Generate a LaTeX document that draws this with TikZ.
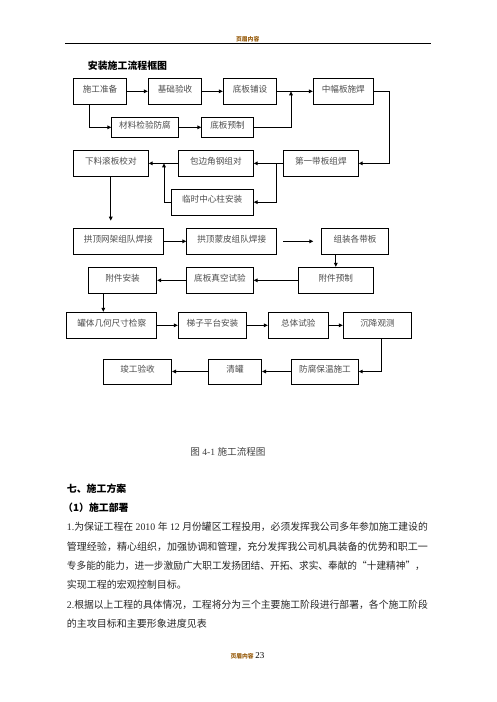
\documentclass[tikz,border=0pt]{standalone}
\usepackage{fontspec}
\usepackage{graphicx}
\setmainfont{Liberation Serif}
\newfontfamily\cjk{Noto Sans CJK SC}
\usetikzlibrary{arrows.meta,calc}
\definecolor{hdr}{RGB}{150,90,10}
\newcommand\bx[6]{\node[box,minimum width={#4-#2},minimum height={#5-#3}] (#1) at ({(#2+#4)/2},{(#3+#5)/2}) {#6};}
\newcommand\pline[3]{\node[para,anchor=west] (#1) at (66.7,#2) {#3};}
\begin{document}
\begin{tikzpicture}[x=1pt,y=-1pt,
  box/.style={draw=black,line width=0.8pt,inner sep=0pt,font=\cjk\fontsize{8.6}{10}\selectfont,text=black!70,text height=5pt,text depth=3.4pt},
  arr/.style={line width=1pt,-{Triangle[length=4pt,width=3.6pt]}},
  para/.style={inner sep=0pt,font=\fontsize{10}{12}\selectfont,text=black!85},
  bhead/.style={inner sep=0pt,anchor=west,font=\cjk\bfseries\fontsize{9.9}{12}\selectfont}
  ]
\useasboundingbox (0,0) rectangle (496,702);
% header
\node[inner sep=0pt,font=\cjk\bfseries\fontsize{5.8}{7}\selectfont,text=hdr] (hd) at (247.7,39) {页眉内容};
\coordinate (hl1) at (65,43.3); \coordinate (hl2) at (430.7,43.3);
\draw[line width=0.8pt] (hl1) -- (hl2);
\node[bhead] (title) at (87.7,66) {安装施工流程框图};
% boxes
\bx{s1}{73.3}{78.3}{126.7}{104.3}{施工准备}
\bx{s2}{148.3}{78.3}{201.7}{104.3}{基础验收}
\bx{s3}{223.3}{78.3}{276.7}{104.3}{底板铺设}
\bx{s4}{313.3}{78.3}{373.3}{104.3}{中幅板施焊}
\bx{m1}{111.7}{117.3}{178.3}{137.3}{材料检验防腐}
\bx{m2}{201.7}{117.3}{253.3}{137.3}{底板预制}
\bx{t1}{73.3}{150.7}{148.3}{176}{下料滚板校对}
\bx{t2}{178.3}{150.7}{253.3}{176}{包边角钢组对}
\bx{t3}{283.3}{150.7}{358.3}{176}{第一带板组焊}
\bx{t4}{171}{189.3}{253.3}{215}{临时中心柱安装}
\bx{r1}{73.3}{228.3}{163.3}{254.3}{拱顶网架组队焊接}
\bx{r2}{186.7}{228.3}{276.7}{254.3}{拱顶蒙皮组队焊接}
\bx{r3}{321.7}{228.3}{388.3}{254.3}{组装各带板}
\bx{p1}{88.3}{267.3}{156.7}{293.3}{附件安装}
\bx{p2}{186.7}{267.3}{253.3}{293.3}{底板真空试验}
\bx{p3}{298.3}{267.3}{373.3}{293.3}{附件预制}
\bx{q1}{66.7}{312.3}{156.7}{338.3}{罐体几何尺寸检察}
\bx{q2}{178.3}{312.3}{246.7}{338.3}{梯子平台安装}
\bx{q3}{268.3}{312.3}{328.3}{338.3}{总体试验}
\bx{q4}{343.3}{312.3}{411.7}{338.3}{沉降观测}
\bx{w1}{103.3}{359}{171.7}{384}{竣工验收}
\bx{w2}{208.3}{359}{261.7}{384}{清罐}
\bx{w3}{291.7}{359}{358.3}{384}{防腐保温施工}
% connectors
\draw[arr] (s1.east) -- (s2.west);
\draw[arr] (s2.east) -- (s3.west);
\draw[arr] (s3.east) -- (s4.west);
\draw[arr] ([xshift=-11pt]s1.south) |- (m1.west);
\draw[arr] (m1.east) -- (m2.west);
\coordinate (j1) at (291,91.3);
\draw[arr] (m2.east) -| (j1);
\draw[arr] (s4.east) -- ++(15.7,0) |- (t3.east);
\draw[arr] (t3.west) -- (t2.east);
\coordinate (j2) at (276,163.35);
\draw[arr] (j2) |- (t4.east);
\coordinate (j3) at (164,163.35);
\draw[arr] (t4.west) -| (j3);
\draw[arr] (t2.west) -- (t1.east);
\coordinate (e1) at (110.8,220.7);
\draw[arr] (t1.south) -- (e1);
\draw[arr] (r1.east) -- (r2.west);
\coordinate (f1) at (283.3,241.3); \coordinate (f2) at (313.3,241.3);
\draw[arr] (f1) -- (f2);
\draw[arr] (p3.north |- r3.south) -- (p3.north);
\draw[arr] (p3.west) -- (p2.east);
\draw[arr] (p2.west) -- (p1.east);
\path ([xshift=-19.2pt]p1.south) coordinate (k1);
\draw[arr] (k1) -- (k1 |- q1.north);
\draw[arr] (q1.east) -- (q2.west);
\draw[arr] (q2.east) -- (q3.west);
\draw[arr] (q3.east) -- (q4.west);
\draw[arr] ([xshift=3.5pt]q4.south) |- (w3.east);
\draw[arr] (w3.west) -- (w2.east);
\draw[arr] (w2.west) -- (w1.east);
% caption
\node[inner sep=0pt,font=\fontsize{9.6}{11}\selectfont,text=black!75] (cap) at (228,451.7) {{\cjk 图} 4-1 {\cjk 施工流程图}};
% text
\node[bhead] (h1) at (66.7,488.3) {七、施工方案};
\node[bhead] (h2) at (63,507.7) {（1）施工部署};
\pline{l1}{526.7}{\resizebox{361pt}{\height}{1.{\cjk 为保证工程在} 2010 {\cjk 年} 12 {\cjk 月份罐区工程投用，必须发挥我公司多年参加施工建设的}}}
\pline{l2}{546.7}{\resizebox{361pt}{\height}{\cjk 管理经验，精心组织，加强协调和管理，充分发挥我公司机具装备的优势和职工一}}
\pline{l3}{566}{\resizebox{358pt}{\height}{\cjk 专多能的能力，进一步激励广大职工发扬团结、开拓、求实、奉献的“十建精神”，}}
\pline{l4}{585}{\cjk 实现工程的宏观控制目标。}
\pline{l5}{605}{\resizebox{361pt}{\height}{2.{\cjk 根据以上工程的具体情况，工程将分为三个主要施工阶段进行部署，各个施工阶段}}}
\pline{l6}{624}{\cjk 的主攻目标和主要形象进度见表}
% footer
\node[inner sep=0pt] (ft) at (247.5,655.5) {{\cjk\bfseries\color{hdr}\fontsize{5.8}{7}\selectfont 页眉内容}\,{\fontsize{9}{10}\selectfont 23}};
\end{tikzpicture}
\end{document}
